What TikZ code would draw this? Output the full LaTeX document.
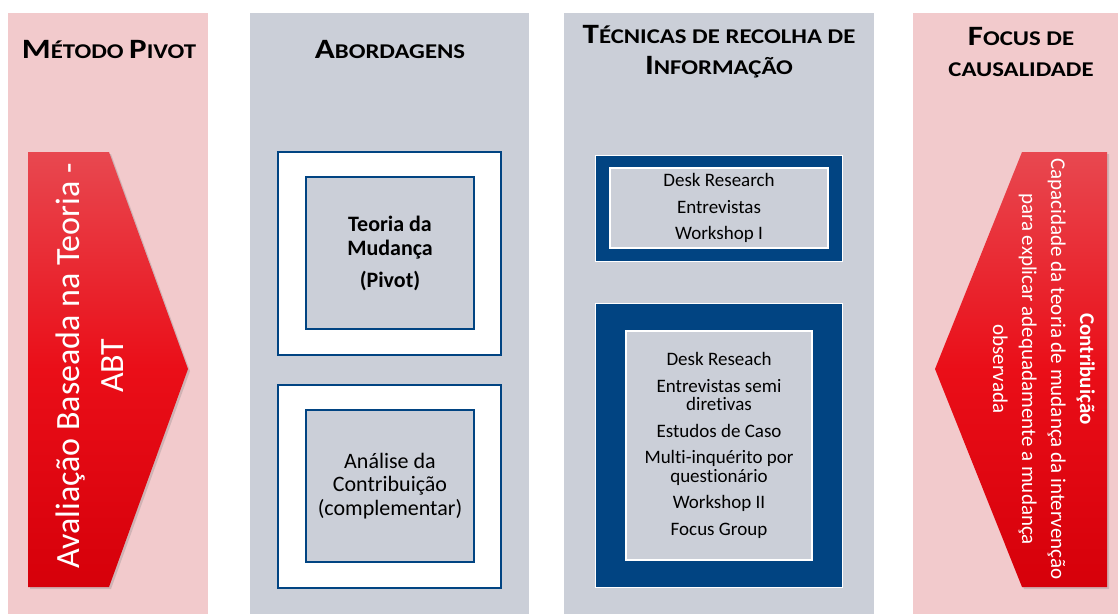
\documentclass[tikz,border=0pt]{standalone}
\usepackage{fontspec}
\setmainfont[Ligatures=NoCommon]{Carlito}
\newfontfamily\titlefont[FakeStretch=1.18,Ligatures=NoCommon]{Carlito}
\usetikzlibrary{shadows}

\definecolor{pinkbg}{RGB}{242,202,204}
\definecolor{greybg}{RGB}{203,207,216}
\definecolor{frameblue}{RGB}{1,68,130}
\definecolor{redtop}{RGB}{232,72,80}
\definecolor{redmid}{RGB}{234,14,24}
\definecolor{redbot}{RGB}{214,0,10}
\newcommand\titlecap[2]{{\fontsize{28}{31}\selectfont #1}{\fontsize{21}{31}\selectfont #2}}

\begin{document}
\begin{tikzpicture}[x=1pt,y=-1pt]
  \tikzstyle{title} = [align=center, inner sep=0, font=\titlefont\bfseries\fontsize{21}{31}\selectfont]
  \tikzstyle{arrowfill} = [top color=redtop, bottom color=redbot, middle color=redmid, drop shadow={shadow xshift=2pt, shadow yshift=-2pt, opacity=0.3}]
  \tikzstyle{arrowtext} = [align=center, inner sep=0, text=white]
  \tikzstyle{outerwhite} = [draw=frameblue, line width=2pt, fill=white, minimum width=223, minimum height=203, inner sep=0]
  \tikzstyle{innergrey} = [draw=frameblue, line width=2pt, fill=greybg, minimum width=168, minimum height=152, inner sep=0, align=center]
  \tikzstyle{outerblue} = [draw=white, line width=1pt, fill=frameblue, minimum width=247, inner sep=0]
  \tikzstyle{innerpale} = [draw=white, line width=1.5pt, fill=greybg, inner sep=0, align=center, font=\fontsize{19}{18.5}\selectfont]

  \useasboundingbox (0,0) rectangle (1118,614);
  \fill[pinkbg] (8,13) rectangle (208,614);
  \fill[greybg] (250,13) rectangle (529,614);
  \fill[greybg] (564,13) rectangle (874,614);
  \fill[pinkbg] (913,13) rectangle (1118,614);

  \node[title] (metodo) at (109,49) {\titlecap{M}{ÉTODO} \titlecap{P}{IVOT}};
  \node[title] (abord) at (390,49) {\titlecap{A}{BORDAGENS}};
  \node[title] (tecnicas) at (719,52) {\titlecap{T}{ÉCNICAS DE RECOLHA DE}\\\titlecap{I}{NFORMAÇÃO}};
  \node[title] (focus) at (1021,52) {\titlecap{F}{OCUS DE}\\CAUSALIDADE};

  \path[arrowfill] (28,152) -- (109,152) -- (188,369) -- (109,587) -- (28,587) -- cycle;
  \path[arrowfill] (1107,152) -- (1022,152) -- (935,369) -- (1022,587) -- (1107,587) -- cycle;
  \node[arrowtext, rotate=90, font=\fontsize{34}{44}\selectfont] (abt) at (90,366) {Avaliação Baseada na Teoria -\\ABT};
  \node[arrowtext, rotate=-90, font=\fontsize{21}{29}\selectfont] (contrib) at (1044,369) {\textbf{Contribuição}\\Capacidade da teoria de mudança da intervenção\\para explicar adequadamente a mudança\\observada};

  \node[outerwhite] (toc) at (389.5,253.5) {};
  \node[innergrey, font=\bfseries\fontsize{22}{24}\selectfont] (tocin) at (390,253) {Teoria da\\Mudança\\[8pt](Pivot)};
  \node[outerwhite] (ac) at (389.5,486) {};
  \node[innergrey, font=\fontsize{22}{23.5}\selectfont] (acin) at (390,486) {Análise da\\Contribuição\\(complementar)};

  \node[outerblue, minimum height=106] (tec1) at (718.5,208) {};
  \node[innerpale, minimum width=218, minimum height=80] (tec1in) at (719,208) {Desk Research\\[8pt]Entrevistas\\[8pt]Workshop I};
  \node[outerblue, minimum height=284] (tec2) at (718.5,445) {};
  \node[innerpale, minimum width=186, minimum height=229] (tec2in) at (719,445.5) {Desk Reseach\\[8pt]Entrevistas semi\\diretivas\\[8pt]Estudos de Caso\\[8pt]Multi-inquérito por\\questionário\\[8pt]Workshop II\\[8pt]Focus Group};

\end{tikzpicture}
\end{document}
